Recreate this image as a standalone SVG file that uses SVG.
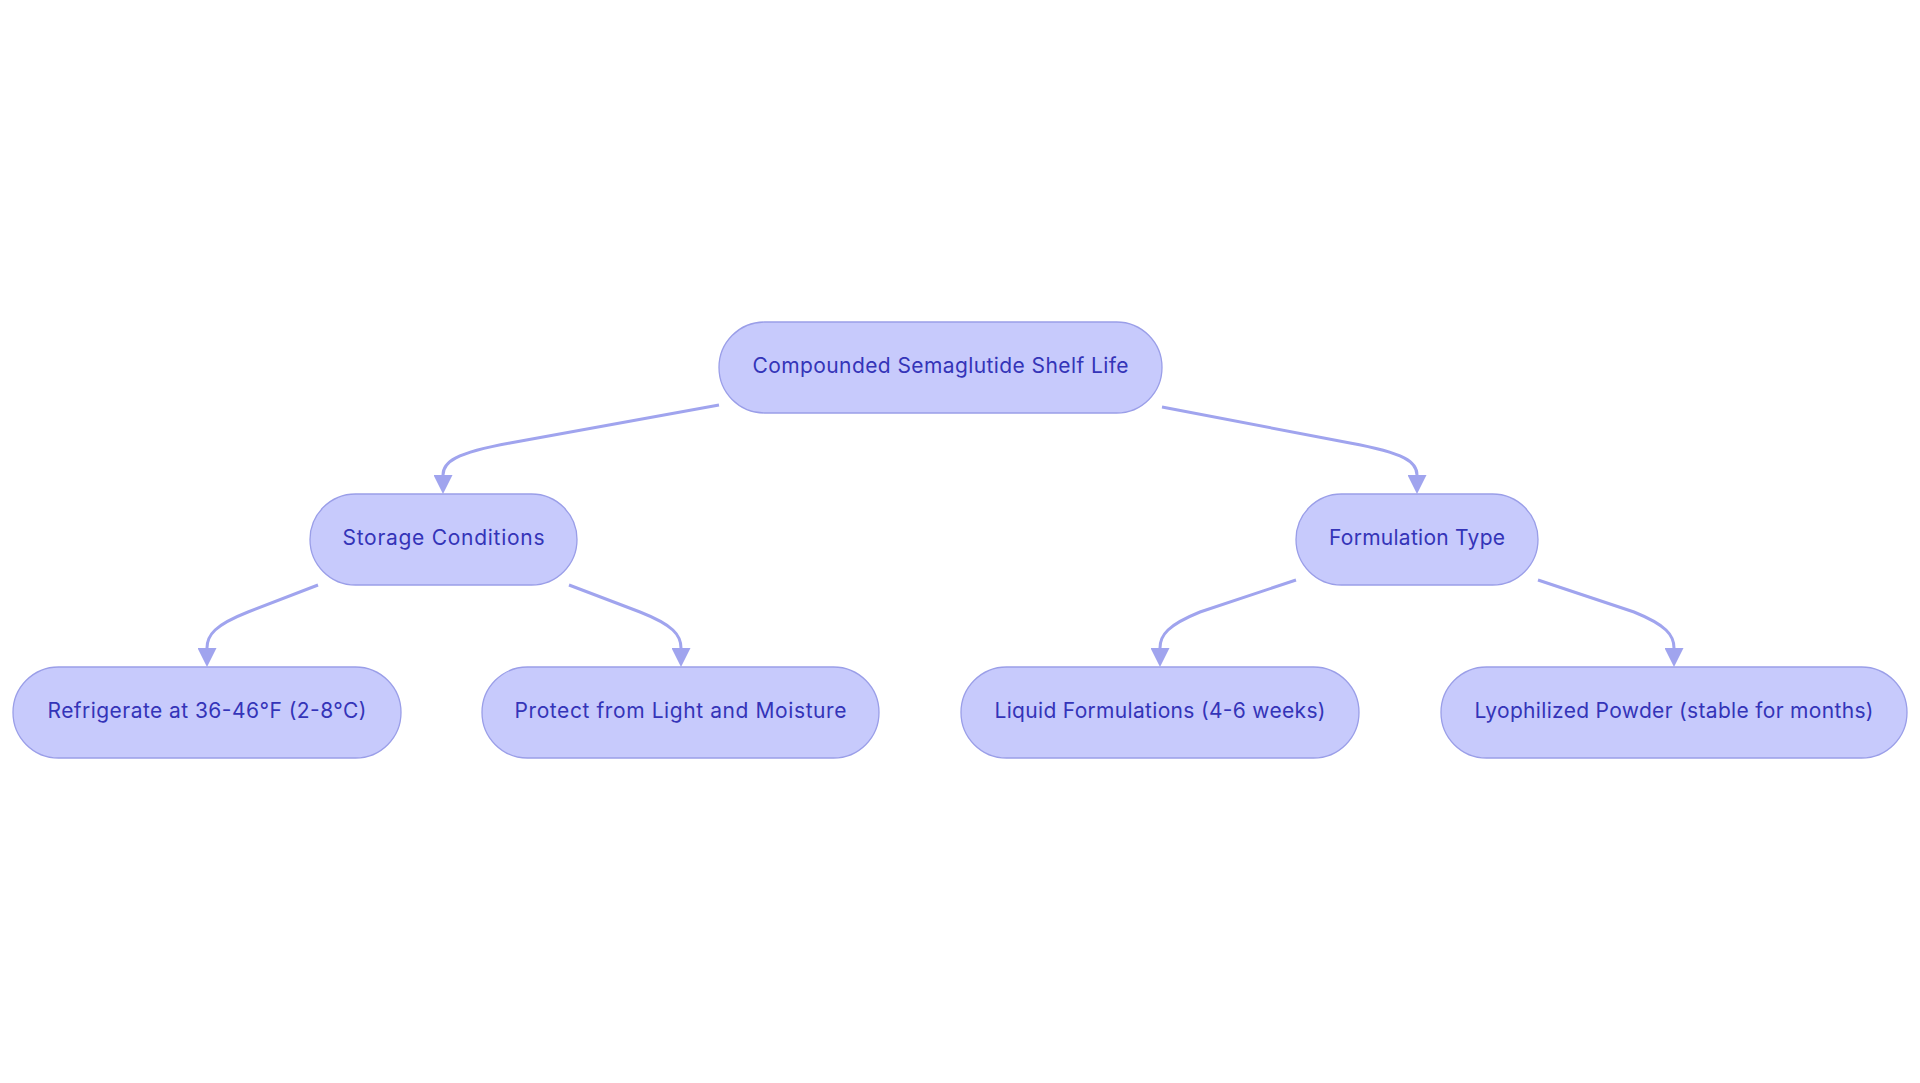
<svg xmlns="http://www.w3.org/2000/svg" width="1920" height="1083" viewBox="0 0 1920 1083">
<style>
.node rect{fill:#C7CAFC;stroke:#9A9EE8;stroke-width:1.3}
.node text{font-family:Inter,"Noto Sans","Liberation Sans",sans-serif;font-size:21px;fill:#3434B8;text-anchor:middle}
.edge{fill:none;stroke:#A0A4EE;stroke-width:3;marker-end:url(#arr)}
</style>
<defs>
<marker id="arr" viewBox="0 0 10 10" refX="0" refY="5" markerUnits="userSpaceOnUse" markerWidth="19" markerHeight="19" orient="auto">
<path d="M0,0 L10,5 L0,10 Z" fill="#A0A4EE"/>
</marker>
</defs>
<rect width="1920" height="1083" fill="#FFFFFF"/>
<g id="connectors">
<path class="edge" d="M719,405 L510,443 C455,453 443,462 443,475"/>
<path class="edge" d="M1162,407 L1350,443 C1405,453 1417,462 1417,475"/>
<path class="edge" d="M318,585 L248,612 C215,625 207,635 207,648"/>
<path class="edge" d="M569,585 L640,612 C673,625 681,635 681,648"/>
<path class="edge" d="M1296,580 L1200,612 C1168,625 1160,635 1160,648"/>
<path class="edge" d="M1538,580 L1634,612 C1666,625 1674,635 1674,648"/>
</g>
<g id="n-root" class="node"><rect x="719" y="322" width="443" height="91" rx="45.5"/><text x="940.5" y="372.5" textLength="376">Compounded Semaglutide Shelf Life</text></g>
<g id="n-storage" class="node"><rect x="310" y="494" width="267" height="91" rx="45.5"/><text x="443.5" y="544.5" textLength="202">Storage Conditions</text></g>
<g id="n-formulation" class="node"><rect x="1296" y="494" width="242" height="91" rx="45.5"/><text x="1417" y="544.5" textLength="176">Formulation Type</text></g>
<g id="n-refrigerate" class="node"><rect x="13" y="667" width="388" height="91" rx="45.5"/><text x="207" y="717.5" textLength="319">Refrigerate at 36-46°F (2-8°C)</text></g>
<g id="n-protect" class="node"><rect x="482" y="667" width="397" height="91" rx="45.5"/><text x="680.5" y="717.5" textLength="332">Protect from Light and Moisture</text></g>
<g id="n-liquid" class="node"><rect x="961" y="667" width="398" height="91" rx="45.5"/><text x="1160" y="717.5" textLength="331">Liquid Formulations (4-6 weeks)</text></g>
<g id="n-lyophilized" class="node"><rect x="1441" y="667" width="466" height="91" rx="45.5"/><text x="1674" y="717.5" textLength="399">Lyophilized Powder (stable for months)</text></g>
</svg>
